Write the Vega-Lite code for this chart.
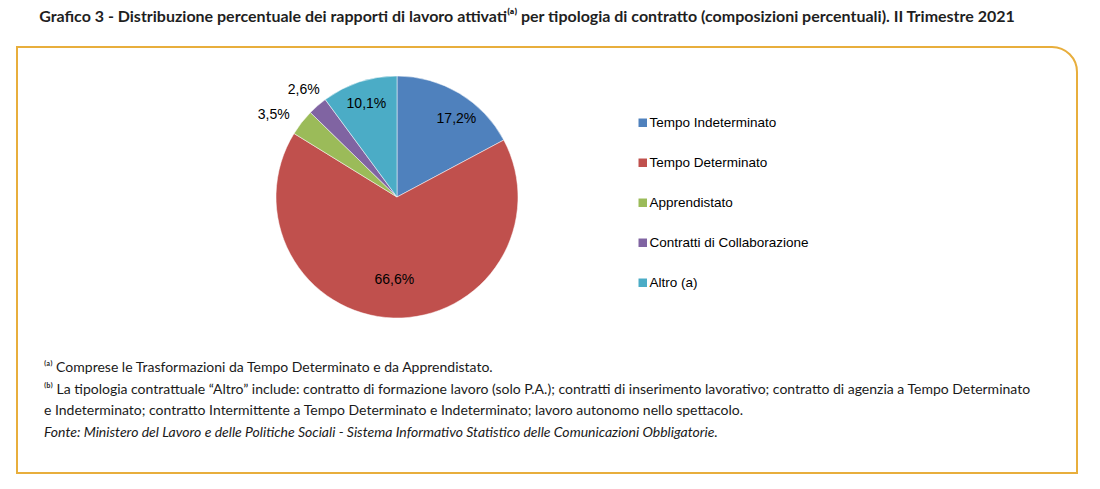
{
  "$schema": "https://vega.github.io/schema/vega-lite/v6.json",
  "padding": {"left": 16, "top": 9, "right": 0, "bottom": 0},
  "autosize": {"type": "pad"},
  "background": "white",
  "title": {
    "text": "Grafico 3 - Distribuzione percentuale dei rapporti di lavoro attivati⁽ᵃ⁾ per tipologia di contratto (composizioni percentuali). II Trimestre 2021",
    "font": "Lato",
    "fontSize": 16,
    "fontWeight": "bold",
    "color": "#1f1f1f",
    "anchor": "middle",
    "dx": -20,
    "offset": 21
  },
  "spacing": 0,
  "vconcat": [
    {
      "width": 1060,
      "height": 426,
      "title": {
        "text": [
          "⁽ᵃ⁾ Comprese le Trasformazioni da Tempo Determinato e da Apprendistato.",
          "⁽ᵇ⁾ La tipologia contrattuale “Altro” include: contratto di formazione lavoro (solo P.A.); contratti di inserimento lavorativo; contratto di agenzia a Tempo Determinato",
          "e Indeterminato; contratto Intermittente a Tempo Determinato e Indeterminato; lavoro autonomo nello spettacolo."
        ],
        "subtitle": "Fonte: Ministero del Lavoro e delle Politiche Sociali - Sistema Informativo Statistico delle Comunicazioni Obbligatorie.",
        "orient": "bottom",
        "anchor": "start",
        "dx": 28,
        "offset": -113,
        "font": "Lato",
        "fontSize": 14,
        "fontWeight": "normal",
        "lineHeight": 21.5,
        "color": "#1a1a1a",
        "subtitleFont": "Lato",
        "subtitleFontSize": 14,
        "subtitleFontStyle": "italic",
        "subtitleColor": "#1a1a1a",
        "subtitlePadding": 8
      },
      "layer": [
        {
          "data": {"values": [{"frame": "box"}]},
          "mark": {
            "type": "rect",
            "fill": null,
            "stroke": "#E8AE3C",
            "strokeWidth": 2,
            "cornerRadiusTopRight": 25
          },
          "encoding": {
            "x": {"value": 0},
            "x2": {"value": "width"},
            "y": {"value": 0},
            "y2": {"value": "height"}
          }
        },
        {
          "data": {
            "name": "pie",
            "values": [
              {"tipo": "Tempo Indeterminato", "pct": 17.2, "ord": 1, "lab": "17,2%"},
              {"tipo": "Tempo Determinato", "pct": 66.6, "ord": 2, "lab": "66,6%"},
              {"tipo": "Apprendistato", "pct": 3.5, "ord": 3, "lab": "3,5%"},
              {"tipo": "Contratti di Collaborazione", "pct": 2.6, "ord": 4, "lab": "2,6%"},
              {"tipo": "Altro (a)", "pct": 10.1, "ord": 5, "lab": "10,1%"}
            ]
          },
          "layer": [
            {
              "mark": {"type": "arc", "x": 380, "y": 150, "outerRadius": 121, "stroke": "white", "strokeWidth": 0.5},
              "encoding": {
                "theta": {"field": "pct", "type": "quantitative", "stack": true, "scale": {"domain": [0, 100]}},
                "order": {"field": "ord", "type": "quantitative"},
                "color": {
                  "field": "tipo",
                  "type": "nominal",
                  "sort": ["Tempo Indeterminato", "Tempo Determinato", "Apprendistato", "Contratti di Collaborazione", "Altro (a)"],
                  "scale": {
                    "domain": ["Tempo Indeterminato", "Tempo Determinato", "Apprendistato", "Contratti di Collaborazione", "Altro (a)"],
                    "range": ["#4F81BD", "#C0504D", "#9BBB59", "#8064A2", "#4BACC6"]
                  },
                  "legend": {
                    "title": null,
                    "orient": "none",
                    "legendX": 619,
                    "legendY": 69,
                    "symbolType": "square",
                    "symbolSize": 72,
                    "symbolStrokeWidth": 0,
                    "labelFont": "Liberation Sans",
                    "labelFontSize": 13.5,
                    "labelColor": "#000000",
                    "labelOffset": 0,
                    "rowPadding": 25,
                    "labelLimit": 400
                  }
                }
              }
            },
            {
              "mark": {"type": "text", "x": 380, "y": 150, "radius": 83, "font": "Liberation Sans", "fontSize": 14, "color": "#000000"},
              "encoding": {
                "theta": {"field": "pct", "type": "quantitative", "stack": true},
                "order": {"field": "ord", "type": "quantitative"},
                "detail": {"field": "tipo", "type": "nominal"},
                "text": {"field": "lab", "type": "nominal", "condition": {"test": "datum.pct < 50", "value": ""}}
              }
            },
            {
              "mark": {"type": "text", "x": 380, "y": 150, "radius": 98, "font": "Liberation Sans", "fontSize": 14, "color": "#000000"},
              "encoding": {
                "theta": {"field": "pct", "type": "quantitative", "stack": true},
                "order": {"field": "ord", "type": "quantitative"},
                "detail": {"field": "tipo", "type": "nominal"},
                "text": {"field": "lab", "type": "nominal", "condition": {"test": "datum.pct < 5 || datum.pct > 15", "value": ""}}
              }
            },
            {
              "mark": {"type": "text", "x": 380, "y": 150, "radius": 98, "dx": 9, "dy": 6, "font": "Liberation Sans", "fontSize": 14, "color": "#000000"},
              "encoding": {
                "theta": {"field": "pct", "type": "quantitative", "stack": true},
                "order": {"field": "ord", "type": "quantitative"},
                "detail": {"field": "tipo", "type": "nominal"},
                "text": {"field": "lab", "type": "nominal", "condition": {"test": "datum.pct < 15 || datum.pct > 50", "value": ""}}
              }
            },
            {
              "mark": {"type": "text", "x": 380, "y": 150, "radius": 142, "font": "Liberation Sans", "fontSize": 14, "color": "#000000"},
              "encoding": {
                "theta": {"field": "pct", "type": "quantitative", "stack": true},
                "order": {"field": "ord", "type": "quantitative"},
                "detail": {"field": "tipo", "type": "nominal"},
                "text": {"field": "lab", "type": "nominal", "condition": {"test": "datum.pct >= 3", "value": ""}}
              }
            },
            {
              "mark": {"type": "text", "x": 380, "y": 150, "radius": 145, "dx": -9, "dy": 7, "font": "Liberation Sans", "fontSize": 14, "color": "#000000"},
              "encoding": {
                "theta": {"field": "pct", "type": "quantitative", "stack": true},
                "order": {"field": "ord", "type": "quantitative"},
                "detail": {"field": "tipo", "type": "nominal"},
                "text": {"field": "lab", "type": "nominal", "condition": {"test": "datum.pct < 3 || datum.pct >= 5", "value": ""}}
              }
            }
          ]
        }
      ]
    }
  ],
  "config": {
    "view": {"stroke": null}
  }
}
